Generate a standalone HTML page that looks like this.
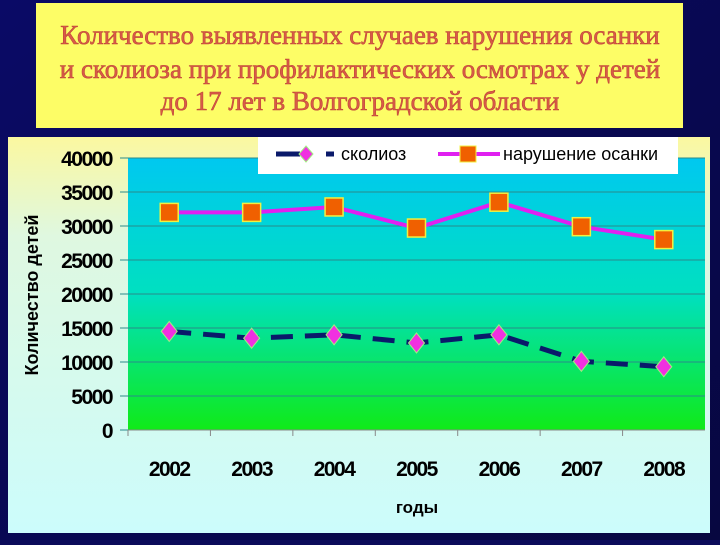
<!DOCTYPE html>
<html><head><meta charset="utf-8">
<style>
html,body{margin:0;padding:0;}
body{width:720px;height:540px;overflow:hidden;background:#0b0b5a;font-family:"Liberation Sans",sans-serif;}
</style></head>
<body>
<svg width="720" height="540" xmlns="http://www.w3.org/2000/svg">
<defs>
<linearGradient id="bg" x1="0" y1="0" x2="1" y2="1"><stop offset="0" stop-color="#0a0a66"/><stop offset="1" stop-color="#070740"/></linearGradient>
<linearGradient id="panel" x1="0" y1="0" x2="0" y2="1"><stop offset="0" stop-color="#fbf8a0"/><stop offset="0.25" stop-color="#dff8e0"/><stop offset="1" stop-color="#ccfcfc"/></linearGradient>
<linearGradient id="plot" x1="0" y1="0" x2="0" y2="1"><stop offset="0" stop-color="#00c8f0"/><stop offset="0.5" stop-color="#00e0c0"/><stop offset="1" stop-color="#10ea18"/></linearGradient>
</defs>
<rect x="0" y="0" width="720" height="540" fill="url(#bg)"/>
<rect x="36" y="3" width="647" height="125" fill="#fdfd66"/>
<g font-family="Liberation Serif, serif" font-size="27" fill="#d85a48" stroke="#c04838" stroke-width="0.6" text-anchor="middle">
<text x="360" y="44">Количество выявленных случаев нарушения осанки</text>
<text x="360" y="78">и сколиоза при профилактических осмотрах у детей</text>
<text x="360" y="110">до 17 лет в Волгоградской области</text>
</g>
<rect x="8" y="137" width="702" height="396" fill="url(#panel)"/>
<g id="chart"></g>
</svg>
<script>
const categories=["2002","2003","2004","2005","2006","2007","2008"];
const scoliosis=[14500,13500,14000,12800,14000,10100,9300];
const posture=[32000,32000,32800,29700,33500,29900,28000];
const yTicks=[0,5000,10000,15000,20000,25000,30000,35000,40000];
const NS="http://www.w3.org/2000/svg";
const L=128,R=705,T=158,B=430,YMAX=40000;
const bw=(R-L)/categories.length;
const xs=i=>L+bw*(i+0.5);
const ys=v=>B-(v/YMAX)*(B-T);
const g=document.getElementById('chart');
function mk(tag,attrs,parent){const e=document.createElementNS(NS,tag);for(const k in attrs)e.setAttribute(k,attrs[k]);(parent||g).appendChild(e);return e;}
const plot=mk('rect',{x:L,y:T,width:R-L,height:B-T,fill:'url(#plot)'});


yTicks.forEach(v=>{
  const ln=mk('line',{x1:L-8,x2:R,y1:ys(v),y2:ys(v),stroke:'#2a8a8a','stroke-width':1});
  
  
  const t=mk('text',{x:L-16,y:ys(v)+8,'text-anchor':'end','font-size':21,'font-weight':'bold',fill:'#000','letter-spacing':'-1.5'});
  t.textContent=v;
  
  
});
const ax=mk('line',{x1:L,x2:R,y1:B,y2:B,stroke:'#888','stroke-width':1});


categories.forEach((c,i)=>{
  const tk=mk('line',{x1:L+bw*i,x2:L+bw*i,y1:B,y2:B+6,stroke:'#888'});
  
  
  const t=mk('text',{x:xs(i),y:476,'text-anchor':'middle','font-size':21,'font-weight':'bold',fill:'#000','letter-spacing':'-1.5'});
  t.textContent=c;
  
  
});
const xt=mk('text',{x:417,y:513,'text-anchor':'middle','font-size':17,'font-weight':'bold',fill:'#000'});
xt.textContent='годы';


const yt=mk('text',{x:0,y:0,'text-anchor':'middle','font-size':18,'font-weight':'bold',fill:'#000',transform:'translate(38,295) rotate(-90)'});
yt.textContent='Количество детей';


const pl=mk('polyline',{points:posture.map((v,i)=>xs(i)+','+ys(v)).join(' '),fill:'none',stroke:'#e020f0','stroke-width':4});


const sl=mk('polyline',{points:scoliosis.map((v,i)=>xs(i)+','+ys(v)).join(' '),fill:'none',stroke:'#0a1a6a','stroke-width':5,'stroke-dasharray':'22,12'});


posture.forEach((v,i)=>{
  const m=mk('rect',{x:xs(i)-9,y:ys(v)-9,width:18,height:18,fill:'#f06000',stroke:'#f0f040','stroke-width':1.5});
  
  
});
scoliosis.forEach((v,i)=>{
  const x=xs(i),y=ys(v);
  const m=mk('polygon',{points:`${x},${y-10} ${x+8},${y} ${x},${y+10} ${x-8},${y}`,fill:'#f030e0',stroke:'#a0f080','stroke-width':1});
  
  
});
const lg=mk('g',{});


mk('rect',{x:258,y:137,width:420,height:37,fill:'#fff'},lg);
mk('line',{x1:276,x2:300,y1:154,y2:154,stroke:'#0a1a6a','stroke-width':5},lg);
mk('line',{x1:326,x2:334,y1:154,y2:154,stroke:'#0a1a6a','stroke-width':5},lg);
mk('polygon',{points:'306,146 313,154 306,162 299,154',fill:'#f030e0',stroke:'#a0f080'},lg);
const t1=mk('text',{x:341,y:160,'font-size':18,fill:'#000'},lg);t1.textContent='сколиоз';


mk('line',{x1:438,x2:500,y1:154,y2:154,stroke:'#e020f0','stroke-width':4},lg);
mk('rect',{x:460,y:146,width:16,height:16,fill:'#f06000',stroke:'#f0f040'},lg);
const t2=mk('text',{x:503,y:160,'font-size':18,fill:'#000'},lg);t2.textContent='нарушение осанки';


</script>
</body></html>
